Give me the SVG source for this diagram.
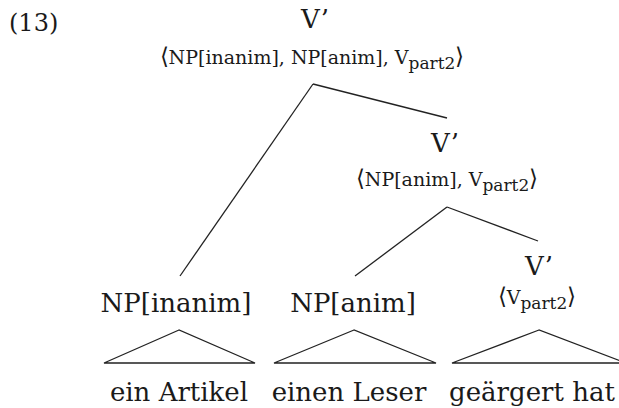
<svg xmlns="http://www.w3.org/2000/svg" width="619" height="408" viewBox="0 0 619 408">
<style>
text{font-family:"DejaVu Serif","Liberation Serif",serif;fill:#1a1a1a;text-anchor:middle}
.cat{font-size:26px}
.feat{font-size:19px}
.sub{font-size:17px}
.br{font-size:23px;font-family:"DejaVu Sans",sans-serif;font-weight:300}
.num{font-size:24px;text-anchor:start}
.word{font-size:26px}
.edge{stroke:#222;stroke-width:1.3;fill:none}
</style>
<rect width="619" height="408" fill="#fff"/>
<text class="num" x="9" y="31">(13)</text>
<g id="connectors">
<line class="edge" x1="313" y1="84" x2="180" y2="276"/>
<line class="edge" x1="313" y1="84" x2="447" y2="118"/>
<line class="edge" x1="447" y1="207" x2="355" y2="276"/>
<line class="edge" x1="447" y1="207" x2="538" y2="241"/>
<polygon class="edge" points="179,330 104,363 255,363"/>
<polygon class="edge" points="354,330 274,363 436,363"/>
<polygon class="edge" points="539,330 452,363 626,363"/>
</g>
<g id="node-vbar1">
<text class="cat" x="315" y="28">V’</text>
<text class="feat" x="312" y="64"><tspan class="br">⟨</tspan>NP[inanim], NP[anim], V<tspan class="sub" dy="5">part2</tspan><tspan class="br" dy="-5">⟩</tspan></text>
</g>
<g id="node-vbar2">
<text class="cat" x="445" y="152">V’</text>
<text class="feat" x="447" y="186"><tspan class="br">⟨</tspan>NP[anim], V<tspan class="sub" dy="5">part2</tspan><tspan class="br" dy="-5">⟩</tspan></text>
</g>
<g id="node-vbar3">
<text class="cat" x="539" y="275">V’</text>
<text class="feat" x="537" y="304"><tspan class="br">⟨</tspan>V<tspan class="sub" dy="5">part2</tspan><tspan class="br" dy="-5">⟩</tspan></text>
</g>
<g id="node-np-inanim">
<text class="cat" x="176" y="312">NP[inanim]</text>
<text class="word" x="179" y="401">ein Artikel</text>
</g>
<g id="node-np-anim">
<text class="cat" x="353" y="312">NP[anim]</text>
<text class="word" x="349" y="401">einen Leser</text>
</g>
<g id="node-v">
<text class="word" x="532" y="401">geärgert hat</text>
</g>
</svg>
